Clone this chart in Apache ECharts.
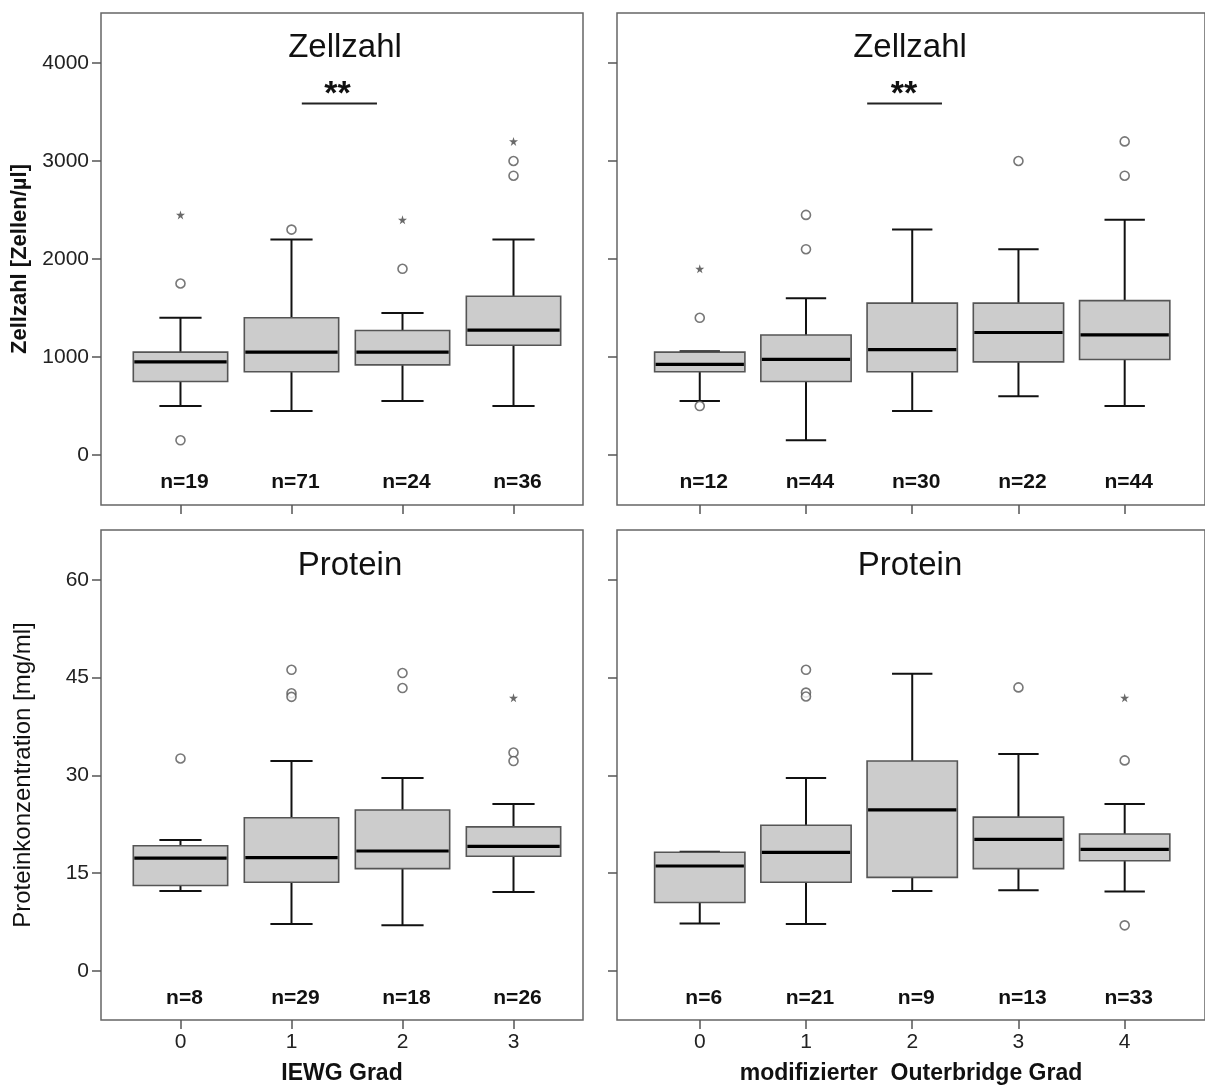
<!DOCTYPE html>
<html><head><meta charset="utf-8">
<script src="https://cdn.jsdelivr.net/npm/echarts@6/dist/echarts.min.js"></script>
<style>html,body{margin:0;padding:0;background:#fff}#c{width:1205px;height:1086px}</style>
</head><body><div id="c"></div>
<script>
// ---- data ----
const iewgGrades = [0, 1, 2, 3];
const outerGrades = [0, 1, 2, 3, 4];
// box values: [lower whisker, Q1, median, Q3, upper whisker]
const zellIewgBox = [[500, 750, 950, 1050, 1400], [450, 850, 1050, 1400, 2200], [550, 920, 1050, 1270, 1450], [500, 1120, 1275, 1620, 2200]];
const zellIewgOut = [[0, 1750], [0, 150], [1, 2300], [2, 1900], [3, 3000], [3, 2850]];
const zellIewgExt = [[0, 2450], [2, 2400], [3, 3200]];
const zellIewgN = [19, 71, 24, 36];

const zellOuterBox = [[550, 850, 925, 1050, 1060], [150, 750, 975, 1225, 1600], [450, 850, 1075, 1550, 2300], [600, 950, 1250, 1550, 2100], [500, 975, 1225, 1575, 2400]];
const zellOuterOut = [[0, 1400], [0, 500], [1, 2450], [1, 2100], [3, 3000], [4, 3200], [4, 2850]];
const zellOuterExt = [[0, 1900]];
const zellOuterN = [12, 44, 30, 22, 44];

const protIewgBox = [[12.25, 13.1, 17.3, 19.2, 20.1], [7.2, 13.6, 17.4, 23.5, 32.2], [7.0, 15.7, 18.4, 24.7, 29.6], [12.1, 17.6, 19.1, 22.1, 25.6]];
const protIewgOut = [[0, 32.6], [1, 46.2], [1, 42.6], [1, 42.05], [2, 45.7], [2, 43.4], [3, 33.5], [3, 32.2]];
const protIewgExt = [[3, 41.9]];
const protIewgN = [8, 29, 18, 26];

const protOuterBox = [[7.3, 10.5, 16.1, 18.2, 18.3], [7.2, 13.6, 18.2, 22.35, 29.6], [12.25, 14.35, 24.7, 32.2, 45.6], [12.4, 15.7, 20.2, 23.6, 33.3], [12.2, 16.9, 18.65, 21.0, 25.6]];
const protOuterOut = [[1, 46.2], [1, 42.7], [1, 42.1], [3, 43.5], [4, 32.3], [4, 7.0]];
const protOuterExt = [[4, 41.9]];
const protOuterN = [6, 21, 9, 13, 33];

const zellTicks = [0, 1000, 2000, 3000, 4000];
const protTicks = [0, 15, 30, 45, 60];

// ---- styling / rendering ----
const FONT = '"Liberation Sans", Arial, Helvetica, sans-serif';
const chart = echarts.init(document.getElementById('c'), null, {renderer: 'canvas'});

function boxRender(params, api) {
  const x = api.value(0);
  const lo = api.coord([x, api.value(1)]);
  const q1 = api.coord([x, api.value(2)]);
  const md = api.coord([x, api.value(3)]);
  const q3 = api.coord([x, api.value(4)]);
  const hi = api.coord([x, api.value(5)]);
  const half = api.size([0.85, 0])[0] / 2;
  const cap = api.size([0.38, 0])[0] / 2;
  const cx = lo[0];
  const ws = {stroke: '#111', lineWidth: 2};
  return {type: 'group', children: [
    {type: 'line', shape: {x1: cx, y1: q3[1], x2: cx, y2: hi[1]}, style: ws},
    {type: 'line', shape: {x1: cx - cap, y1: hi[1], x2: cx + cap, y2: hi[1]}, style: ws},
    {type: 'line', shape: {x1: cx, y1: q1[1], x2: cx, y2: lo[1]}, style: ws},
    {type: 'line', shape: {x1: cx - cap, y1: lo[1], x2: cx + cap, y2: lo[1]}, style: ws},
    {type: 'rect', shape: {x: cx - half, y: q3[1], width: 2 * half, height: q1[1] - q3[1]}, style: {fill: '#cccccc', stroke: '#555', lineWidth: 1.6}},
    {type: 'line', shape: {x1: cx - half + 1, y1: md[1], x2: cx + half - 1, y2: md[1]}, style: {stroke: '#000', lineWidth: 3.2}}
  ]};
}

function boxSeries(idx, grades, box) {
  return {type: 'custom', xAxisIndex: idx, yAxisIndex: idx, renderItem: boxRender,
    data: box.map((b, i) => [grades[i]].concat(b)), encode: {x: 0, y: [1, 2, 3, 4, 5]}, z: 2, silent: true};
}
function outSeries(idx, pts) {
  return {type: 'scatter', xAxisIndex: idx, yAxisIndex: idx, data: pts, symbol: 'circle', symbolSize: 9,
    itemStyle: {color: '#fff', borderColor: '#555', borderWidth: 1.6}, z: 3, silent: true};
}
const starPath = 'path://M50,0 L61,35 L98,35 L68,57 L79,91 L50,70 L21,91 L32,57 L2,35 L39,35 Z';
function extSeries(idx, pts) {
  return {type: 'scatter', xAxisIndex: idx, yAxisIndex: idx, data: pts, symbol: starPath, symbolSize: 9,
    itemStyle: {color: '#444'}, z: 3, silent: true};
}
function nSeries(idx, grades, ns, yPos) {
  return {type: 'custom', xAxisIndex: idx, yAxisIndex: idx, silent: true, z: 4,
    data: ns.map((n, i) => [grades[i], n]),
    encode: {x: 0},
    renderItem: function (params, api) {
      const p = api.coord([api.value(0), yPos]);
      return {type: 'text', x: p[0] + 4, y: p[1],
        style: {text: 'n=' + api.value(1), font: 'bold 21px ' + FONT, fill: '#111', align: 'center', verticalAlign: 'middle'}};
    }};
}
function sigSeries(idx, x1, x2, yLine, xText, yText) {
  return {type: 'custom', xAxisIndex: idx, yAxisIndex: idx, silent: true, z: 4,
    data: [[x1, yLine]], encode: {x: 0},
    renderItem: function (params, api) {
      const a = api.coord([x1, yLine]), b = api.coord([x2, yLine]), t = api.coord([xText, yText]);
      return {type: 'group', children: [
        {type: 'line', shape: {x1: a[0], y1: a[1], x2: b[0], y2: b[1]}, style: {stroke: '#222', lineWidth: 2}},
        {type: 'text', x: t[0], y: t[1], style: {text: '**', font: 'bold 34px ' + FONT, fill: '#111', align: 'center', verticalAlign: 'middle'}}
      ]};
    }};
}

const plainNum = v => String(v);
function xAx(idx, min, max, ticks, showLabels, name) {
  return {type: 'value', gridIndex: idx, min: min, max: max,
    axisLine: {show: false, onZero: false},
    splitLine: {show: false},
    axisTick: {show: true, length: 9, lineStyle: {color: '#555', width: 1.5}, customValues: ticks},
    axisLabel: {show: showLabels, customValues: ticks, formatter: plainNum, margin: 12, color: '#222', fontSize: 21, fontFamily: FONT},
    name: name || '', nameLocation: 'middle', nameGap: 42,
    nameTextStyle: {fontSize: 23, fontWeight: 'bold', color: '#111', fontFamily: FONT}};
}
function yAx(idx, min, max, ticks, showLabels, name, bold, gap, fs) {
  return {type: 'value', gridIndex: idx, min: min, max: max,
    axisLine: {show: false, onZero: false},
    splitLine: {show: false},
    axisTick: {show: true, length: 9, lineStyle: {color: '#555', width: 1.5}, customValues: ticks},
    axisLabel: {show: showLabels, customValues: ticks, formatter: plainNum, margin: 12, color: '#222', fontSize: 21, fontFamily: FONT},
    name: name || '', nameLocation: 'middle', nameGap: gap || 60,
    nameTextStyle: {fontSize: fs || 22, fontWeight: bold ? 'bold' : 'normal', color: '#111', fontFamily: FONT}};
}

const gridStyle = {show: true, borderColor: '#666', borderWidth: 1.5, backgroundColor: 'transparent'};
const LMIN = -0.716, LMAX = 3.626, RMIN = -0.779, RMAX = 4.756;
const ZMIN = -510, ZMAX = 4510, PMIN = -7.52, PMAX = 67.64;

function titleText(x, y, t) {
  return {type: 'text', x: x, y: y, z: 10,
    style: {text: t, font: '33px ' + FONT, fill: '#111', align: 'center', verticalAlign: 'middle', textAlign: 'center', textVerticalAlign: 'middle'}};
}

const option = {
  animation: false,
  backgroundColor: '#fff',
  grid: [
    Object.assign({left: 101, top: 13, width: 482, height: 492}, gridStyle),
    Object.assign({left: 617, top: 13, width: 590, height: 492}, gridStyle),
    Object.assign({left: 101, top: 530, width: 482, height: 490}, gridStyle),
    Object.assign({left: 617, top: 530, width: 590, height: 490}, gridStyle)
  ],
  xAxis: [
    xAx(0, LMIN, LMAX, iewgGrades, false),
    xAx(1, RMIN, RMAX, outerGrades, false),
    xAx(2, LMIN, LMAX, iewgGrades, true, 'IEWG Grad'),
    xAx(3, RMIN, RMAX, outerGrades, true, 'modifizierter  Outerbridge Grad')
  ],
  yAxis: [
    yAx(0, ZMIN, ZMAX, zellTicks, true, 'Zellzahl [Zellen/µl]', true, 70, 22),
    yAx(1, ZMIN, ZMAX, zellTicks, false),
    yAx(2, PMIN, PMAX, protTicks, true, 'Proteinkonzentration [mg/ml]', false, 66, 24),
    yAx(3, PMIN, PMAX, protTicks, false)
  ],
  graphic: [
    titleText(345, 48, 'Zellzahl'),
    titleText(910, 48, 'Zellzahl'),
    titleText(350, 566, 'Protein'),
    titleText(910, 566, 'Protein')
  ],
  series: [
    boxSeries(0, iewgGrades, zellIewgBox), outSeries(0, zellIewgOut), extSeries(0, zellIewgExt), nSeries(0, iewgGrades, zellIewgN, -275),
    sigSeries(0, 1.093, 1.77, 3587, 1.414, 3673),
    boxSeries(1, outerGrades, zellOuterBox), outSeries(1, zellOuterOut), extSeries(1, zellOuterExt), nSeries(1, outerGrades, zellOuterN, -275),
    sigSeries(1, 1.576, 2.28, 3587, 1.923, 3673),
    boxSeries(2, iewgGrades, protIewgBox), outSeries(2, protIewgOut), extSeries(2, protIewgExt), nSeries(2, iewgGrades, protIewgN, -4.1),
    boxSeries(3, outerGrades, protOuterBox), outSeries(3, protOuterOut), extSeries(3, protOuterExt), nSeries(3, outerGrades, protOuterN, -4.1)
  ]
};
chart.setOption(option);
</script>
</body></html>
